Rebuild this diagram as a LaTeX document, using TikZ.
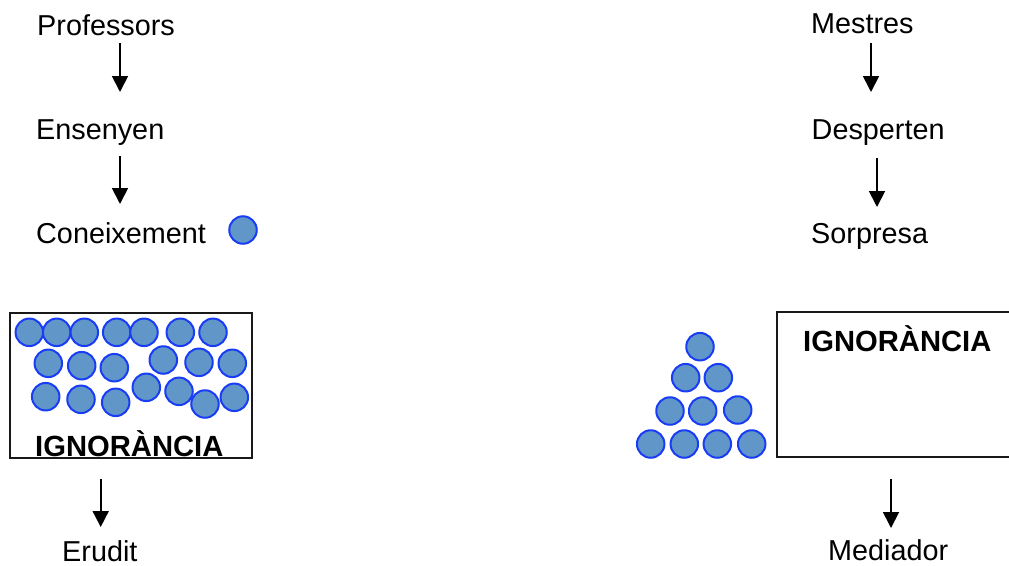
\documentclass[tikz,border=0pt]{standalone}
\usepackage{fontspec}
\setmainfont{Liberation Sans}
\usetikzlibrary{arrows.meta}
\definecolor{ballfill}{RGB}{97,150,200}
\definecolor{ballline}{RGB}{25,60,245}
\begin{document}
\begin{tikzpicture}[x=1pt,y=-1pt,
 lbl/.style={anchor=base west, inner sep=0, font=\fontsize{28.8}{33}\selectfont},
 ttl/.style={anchor=base west, inner sep=0, font=\fontsize{29.2}{33}\selectfont\bfseries},
 ball/.style={circle, minimum size=27.5pt, inner sep=0, draw=ballline, fill=ballfill, line width=2pt},
 arr/.style={-{Triangle[width=16pt,length=16pt]}, line width=1.8pt},
 frame/.style={draw=black!90, line width=2pt, rectangle, inner sep=0}]
\clip (0,0) rectangle (1009,565);
\fill[white] (0,0) rectangle (1009,565);
% left column
\node[lbl] (prof) at (37,35) {Professors};
\node[lbl] (ens) at (36,139) {Ensenyen};
\node[lbl] (con) at (36,243) {Coneixement};
\node[ball] (cball) at (243,230) {};
\coordinate (a1s) at (120,43); \coordinate (a1e) at (120,92);
\coordinate (a2s) at (120,156); \coordinate (a2e) at (120,204);
\draw[arr] (a1s) -- (a1e);
\draw[arr] (a2s) -- (a2e);
\node[frame, minimum width=242pt, minimum height=145pt] (lbox) at (131,385.5) {};
\foreach \x/\y [count=\i] in {29.3/332.3,56.7/332.3,84.3/332.3,116.7/332.3,144/332.3,180.3/332.3,213/332.3,
  48.3/363.3,81.7/365.7,114.3/367.7,163.3/360,199/362.3,232.3/363.3,
  45.7/396.7,81/399.3,115.7/402.3,146.3/387.3,179/391.3,205/404,234.3/397.3}
  \node[ball] (lb\i) at (\x,\y) {};
\node[ttl] (lign) at (35,456) {IGNORÀNCIA};
\coordinate (a3s) at (100.7,479); \coordinate (a3e) at (100.7,527);
\draw[arr] (a3s) -- (a3e);
\node[lbl] (erudit) at (62,561) {Erudit};
% right column
\node[lbl] (mest) at (811,33.5) {Mestres};
\node[lbl] (desp) at (811.5,139.5) {Desperten};
\node[lbl] (sorp) at (811,243.5) {Sorpresa};
\coordinate (b1s) at (871,43); \coordinate (b1e) at (871,92);
\coordinate (b2s) at (877,158); \coordinate (b2e) at (877,207);
\draw[arr] (b1s) -- (b1e);
\draw[arr] (b2s) -- (b2e);
\foreach \x/\y [count=\i] in {700/346.7,685.7/377.7,718.3/377.7,670/411,702.7/411,737.7/410,
  650.7/444,684.3/444,717.3/444,751.7/444}
  \node[ball] (rb\i) at (\x,\y) {};
\node[frame, minimum width=236pt, minimum height=145pt] (rbox) at (895,384.5) {};
\node[ttl] (rign) at (803,351) {IGNORÀNCIA};
\coordinate (b3s) at (891,479); \coordinate (b3e) at (891,528);
\draw[arr] (b3s) -- (b3e);
\node[lbl] (medi) at (828,560) {Mediador};
\end{tikzpicture}
\end{document}
